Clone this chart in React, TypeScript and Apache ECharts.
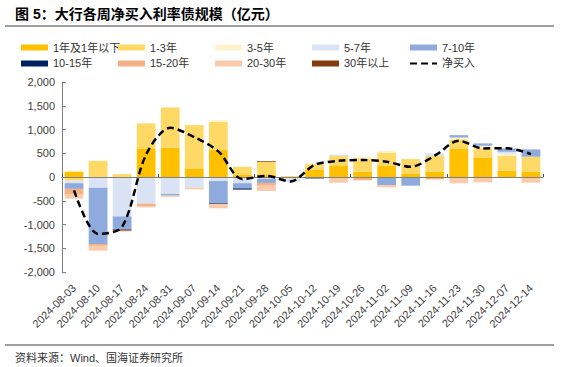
import React, { useEffect, useRef } from "react";
import * as echarts from "echarts";

const categories = [
  "2024-08-03", "2024-08-10", "2024-08-17", "2024-08-24", "2024-08-31",
  "2024-09-07", "2024-09-14", "2024-09-21", "2024-09-28", "2024-10-05",
  "2024-10-12", "2024-10-19", "2024-10-26", "2024-11-02", "2024-11-09",
  "2024-11-16", "2024-11-23", "2024-11-30", "2024-12-07", "2024-12-14",
];

const y1Below = [115, 0, 0, 590, 615, 168, 567, 55, 55, 0, 160, 231, 112, 231, 77, 112, 602, 413, 133, 112];
const y1to3 = [-75, 340, 60, 540, 850, 924, 595, 160, 265, 20, 110, 210, 280, 280, 301, 329, 189, 189, 308, 315];
const y3to5 = [20, 0, 0, 0, 0, 0, 35, 0, 0, 0, 30, 0, 35, 35, 0, 0, 40, 56, 50, 0];
const y5to7 = [-55, -225, -830, -560, -357, -225, -85, -130, -40, -100, 0, 30, 0, 0, 0, 56, 0, 0, 40, 0];
const y7to10 = [-120, -1185, -265, 0, -33, 0, -465, -110, -85, 0, 0, 0, 0, -168, -182, 0, 50, 49, 70, 154];
const y10to15 = [0, 0, -15, 0, 0, 0, -15, -25, 0, 0, -30, 0, 0, 0, 0, 0, 0, 0, -20, 0];
const y15to20 = [-120, -40, -15, -60, 0, 0, 0, 0, -60, 0, 0, 0, -70, 0, 0, -50, 0, 0, 0, 0];
const y20to30 = [-85, -100, 0, -20, -30, -35, -95, 0, -110, 0, 0, -120, 0, -49, 0, 0, -133, -112, 0, -120];
const y30plus = [0, 0, -15, 0, 0, 0, 0, 0, 15, 0, 0, 0, 0, 0, 0, 0, 0, 0, 0, 0];
const netBuy = [-280, -1200, -1050, 475, 1035, 840, 540, -45, 25, -95, 255, 340, 357, 322, 215, 448, 763, 602, 605, 483];

const yTicks = { min: -2000, max: 2000, interval: 500 };

const barSeriesDefs = [
  { name: "1年及1年以下", data: y1Below, color: "#FFC000" },
  { name: "1-3年", data: y1to3, color: "#FFD966" },
  { name: "3-5年", data: y3to5, color: "#FFF2CC" },
  { name: "5-7年", data: y5to7, color: "#DAE3F3" },
  { name: "7-10年", data: y7to10, color: "#8FAADC" },
  { name: "10-15年", data: y10to15, color: "#002060" },
  { name: "15-20年", data: y15to20, color: "#F4B183" },
  { name: "20-30年", data: y20to30, color: "#F8CBAD" },
  { name: "30年以上", data: y30plus, color: "#843C0C" },
];

const FONT = "'Liberation Sans', 'Noto Sans CJK SC', sans-serif";

export default function App() {
  const ref = useRef<HTMLDivElement>(null);

  useEffect(() => {
    if (!ref.current) return;
    const chart = echarts.init(ref.current, undefined, { renderer: "svg" });

    const legendCols = [
      ["1年及1年以下", "10-15年"],
      ["1-3年", "15-20年"],
      ["3-5年", "20-30年"],
      ["5-7年", "30年以上"],
      ["7-10年", "净买入"],
    ];
    const legendLefts = [16, 113, 210, 307, 404];

    const legends = legendCols.map((col, i) => ({
      orient: "vertical",
      left: legendLefts[i],
      top: 37,
      itemWidth: 27,
      itemHeight: 6,
      itemGap: 5,
      textStyle: { fontSize: 11, color: "#333", fontFamily: FONT },
      data: col.map((n) =>
        n === "净买入"
          ? { name: n, itemStyle: { opacity: 0 } }
          : { name: n, icon: "rect" }
      ),
    }));

    const option: any = {
      animation: false,
      textStyle: { fontFamily: FONT },
      legend: legends,
      grid: { left: 62, right: 24, top: 82, bottom: 95 },
      xAxis: [
        {
          type: "category",
          data: categories,
          position: "bottom",
          axisLine: { show: false, onZero: false },
          axisTick: { show: false },
          axisLabel: {
            interval: 0,
            rotate: 45,
            fontSize: 11,
            color: "#404040",
            margin: 14,
            fontFamily: FONT,
          },
        },
        {
          type: "category",
          data: categories,
          position: "bottom",
          z: 5,
          axisLine: { show: true, onZero: true, lineStyle: { color: "#7f7f7f", width: 1 } },
          axisTick: { show: true, inside: true, length: 3, lineStyle: { color: "#555" } },
          axisLabel: { show: false },
        },
      ],
      yAxis: {
        type: "value",
        min: yTicks.min,
        max: yTicks.max,
        interval: yTicks.interval,
        splitLine: { show: false },
        axisLine: { show: true, lineStyle: { color: "#7f7f7f", width: 1 } },
        axisTick: { show: true, inside: true, length: 4, lineStyle: { color: "#7f7f7f" } },
        axisLabel: {
          fontSize: 11,
          color: "#404040",
          margin: 7,
          fontFamily: FONT,
          formatter: (v: number) => v.toLocaleString("en-US"),
        },
      },
      series: [
        ...barSeriesDefs.map((s) => ({
          name: s.name,
          type: "bar",
          stack: "total",
          xAxisIndex: 0,
          yAxisIndex: 0,
          barCategoryGap: "22%",
          itemStyle: { color: s.color },
          data: s.data,
        })),
        {
          name: "净买入",
          type: "line",
          xAxisIndex: 0,
          yAxisIndex: 0,
          z: 6,
          symbol: "none",
          smooth: 0.3,
          itemStyle: { color: "#000" },
          lineStyle: { color: "#000", width: 2.5, type: [7, 4] },
          data: netBuy,
        },
      ],
      graphic: [
        {
          type: "text",
          left: 15,
          top: 7,
          style: {
            text: "图 5：大行各周净买入利率债规模（亿元）",
            fontSize: 14,
            fontWeight: "bold",
            fill: "#000",
            fontFamily: FONT,
          },
        },
        {
          type: "line",
          shape: { x1: 5, y1: 26, x2: 554, y2: 26 },
          style: { stroke: "#7f7f7f", lineWidth: 1.5 },
        },
        {
          type: "line",
          shape: { x1: 5, y1: 345, x2: 554, y2: 345 },
          style: { stroke: "#7f7f7f", lineWidth: 1.5 },
        },
        {
          type: "text",
          left: 15,
          top: 352,
          style: {
            text: "资料来源：Wind、国海证券研究所",
            fontSize: 11,
            fill: "#333",
            fontFamily: FONT,
          },
        },
      ],
    };

    chart.setOption(option);
    return () => chart.dispose();
  }, []);

  return (
    <div
      ref={ref}
      style={{ position: "fixed", left: 0, top: 0, width: 567, height: 367, background: "#fff" }}
    />
  );
}
